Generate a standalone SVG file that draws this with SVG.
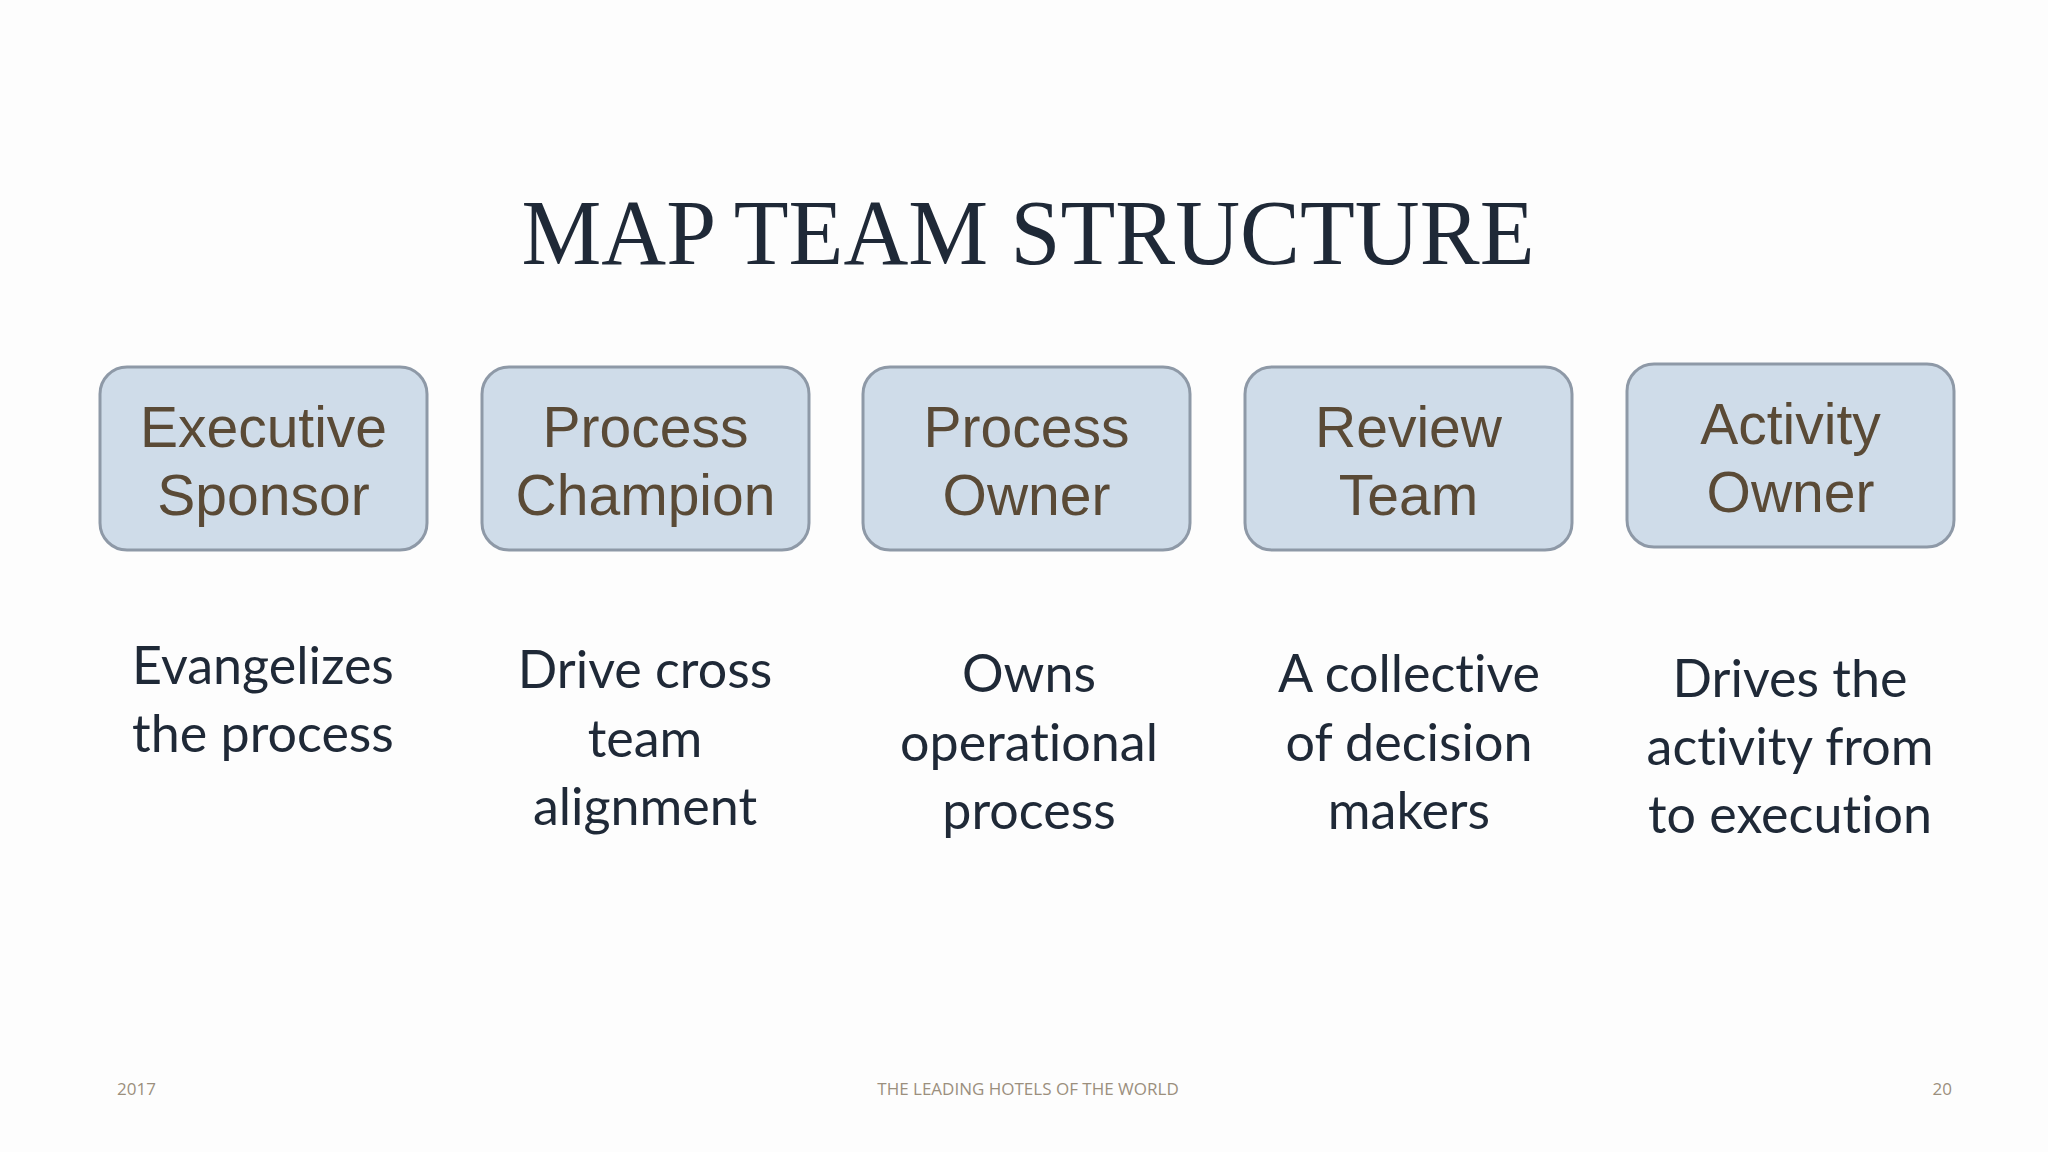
<svg xmlns="http://www.w3.org/2000/svg" width="2048" height="1152" viewBox="0 0 2048 1152">
<style>
.bg{fill:#fdfdfd}
.box{fill:#cfdce9;stroke:#8e99a7;stroke-width:3}
.bt{font-family:"Liberation Sans",Arial,sans-serif;font-size:57px;fill:#5a4a36;text-anchor:middle}
.dt{font-family:Lato,"Open Sans",sans-serif;font-size:52px;fill:#1f2937;text-anchor:middle;font-variant-ligatures:none}
.title{font-family:"Liberation Serif","Times New Roman",serif;font-size:94px;fill:#1f2937;text-anchor:middle}
.ft{font-family:"Open Sans","Liberation Sans",sans-serif;font-size:17px;fill:#9b8f7d}
</style>
<rect class="bg" x="0" y="0" width="2048" height="1152"/>
<text class="title" x="1028" y="264" textLength="1013" lengthAdjust="spacingAndGlyphs">MAP TEAM STRUCTURE</text>
<g id="connectors"></g>
<g id="node-executive-sponsor">
<rect class="box" x="100" y="367" width="327" height="183" rx="27"/>
<text class="bt" x="263.5" y="447">Executive</text>
<text class="bt" x="263.5" y="515">Sponsor</text>
</g>
<g id="node-process-champion">
<rect class="box" x="482" y="367" width="327" height="183" rx="27"/>
<text class="bt" x="645.5" y="447">Process</text>
<text class="bt" x="645.5" y="515">Champion</text>
</g>
<g id="node-process-owner">
<rect class="box" x="863" y="367" width="327" height="183" rx="27"/>
<text class="bt" x="1026.5" y="447">Process</text>
<text class="bt" x="1026.5" y="515">Owner</text>
</g>
<g id="node-review-team">
<rect class="box" x="1245" y="367" width="327" height="183" rx="27"/>
<text class="bt" x="1408.5" y="447">Review</text>
<text class="bt" x="1408.5" y="515">Team</text>
</g>
<g id="node-activity-owner">
<rect class="box" x="1627" y="364" width="327" height="183" rx="27"/>
<text class="bt" x="1790.5" y="444">Activity</text>
<text class="bt" x="1790.5" y="512">Owner</text>
</g>
<g id="desc-1">
<text class="dt" x="263" y="684">Evangelizes</text>
<text class="dt" x="263" y="752">the process</text>
</g>
<g id="desc-2">
<text class="dt" x="645" y="688">Drive cross</text>
<text class="dt" x="645" y="757">team</text>
<text class="dt" x="645" y="825">alignment</text>
</g>
<g id="desc-3">
<text class="dt" x="1029" y="692">Owns</text>
<text class="dt" x="1029" y="761">operational</text>
<text class="dt" x="1029" y="829">process</text>
</g>
<g id="desc-4">
<text class="dt" x="1409" y="692">A collective</text>
<text class="dt" x="1409" y="761">of decision</text>
<text class="dt" x="1409" y="829">makers</text>
</g>
<g id="desc-5">
<text class="dt" x="1790" y="697">Drives the</text>
<text class="dt" x="1790" y="765">activity from</text>
<text class="dt" x="1790" y="833">to execution</text>
</g>
<text class="ft" x="117" y="1095">2017</text>
<text class="ft" x="1028" y="1095" text-anchor="middle">THE LEADING HOTELS OF THE WORLD</text>
<text class="ft" x="1952" y="1095" text-anchor="end">20</text>
</svg>
